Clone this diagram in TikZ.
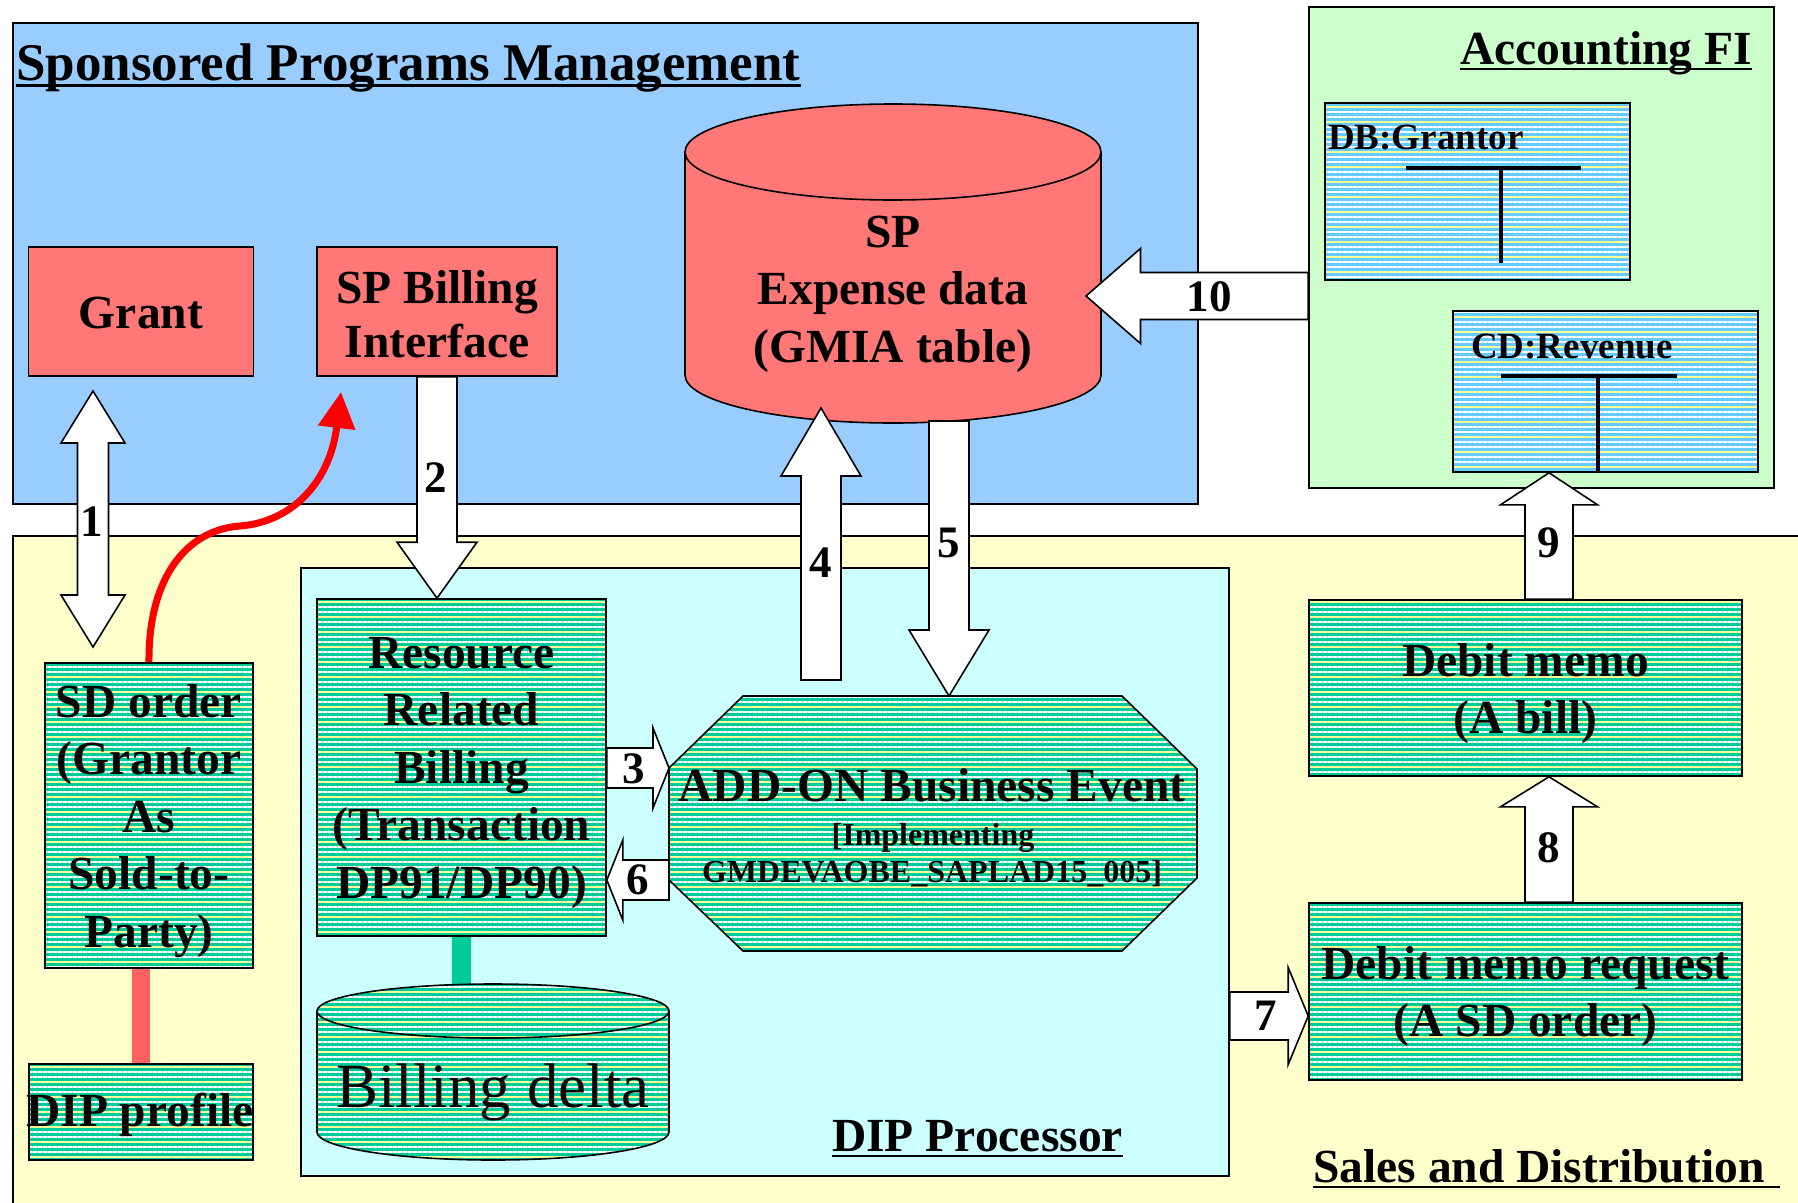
\documentclass[tikz,border=0pt]{standalone}
\usepackage{fontspec}
\setmainfont{Liberation Serif}
\usetikzlibrary{calc,arrows.meta,patterns.meta}
\definecolor{spblue}{HTML}{99CCFF}
\definecolor{redbox}{HTML}{FF7777}
\definecolor{accgreen}{HTML}{CCFFCC}
\definecolor{sdyellow}{HTML}{FFFFCC}
\definecolor{dipcyan}{HTML}{CCFFFF}
\definecolor{tealc}{HTML}{00CC99}
\definecolor{tblue}{HTML}{66CCFF}
\definecolor{hatchy}{HTML}{FFFF99}
\definecolor{linkred}{HTML}{FF6060}
\newcommand\fbig{\fontsize{47.5}{57.5}\selectfont\bfseries}
\newcommand\fspb{\fontsize{47.5}{54}\selectfont\bfseries}
\newcommand\ftitle{\fontsize{53}{60}\selectfont\bfseries}
\newcommand\fnum{\fontsize{45}{45}\selectfont\bfseries}
\newcommand\fsmall{\fontsize{32}{36}\selectfont\bfseries}
\newcommand\facct{\fontsize{37}{40}\selectfont\bfseries}
\newcommand\fdelta{\fontsize{63}{70}\selectfont}
% block arrow: start, tip, shaft half width, head half width, head length
\newcommand\blockarr[5]{%
  \coordinate (hbase) at ($(#2)!#5!(#1)$);
  \draw[barrow] ($(#1)!#3!90:(#2)$) -- ($(hbase)!#3!90:(#2)$) -- ($(hbase)!#4!90:(#2)$) -- (#2) -- ($(hbase)!#4!-90:(#2)$) -- ($(hbase)!#3!-90:(#2)$) -- ($(#1)!#3!-90:(#2)$) -- cycle;}
\newcommand\dblarr[5]{%
  \coordinate (hbA) at ($(#1)!#5!(#2)$);
  \coordinate (hbB) at ($(#2)!#5!(#1)$);
  \draw[barrow] (#1) -- ($(hbA)!#4!90:(#2)$) -- ($(hbA)!#3!90:(#2)$) -- ($(hbB)!#3!90:(#2)$) -- ($(hbB)!#4!90:(#2)$) -- (#2) -- ($(hbB)!#4!-90:(#2)$) -- ($(hbB)!#3!-90:(#2)$) -- ($(hbA)!#3!-90:(#2)$) -- ($(hbA)!#4!-90:(#2)$) -- cycle;}
\begin{document}
\begin{tikzpicture}[x=1pt,y=-1pt,
  container/.style={draw=black,line width=1.8pt,inner sep=0pt},
  tealhatch/.style={preaction={fill=tealc},
    preaction={pattern={Lines[distance=5pt,line width=1.1pt]},pattern color=white},
    preaction={pattern={Lines[distance=15pt,line width=1.1pt]},pattern color=hatchy}},
  bluehatch/.style={preaction={fill=tblue},
    preaction={pattern={Lines[distance=5pt,line width=1.1pt]},pattern color=white},
    preaction={pattern={Lines[distance=15pt,line width=1.1pt]},pattern color=hatchy}},
  rbox/.style={draw=black,line width=1.6pt,fill=redbox,inner sep=0pt},
  gbox/.style={tealhatch,draw=black,line width=1.6pt,inner sep=0pt},
  tbox/.style={bluehatch,draw=black,line width=1.6pt,inner sep=0pt},
  btext/.style={align=center,font=\fbig,inner sep=0pt},
  barrow/.style={draw=black,fill=white,line width=1.6pt,line join=miter},
  numlab/.style={font=\fnum,inner sep=0pt},
  ttext/.style={inner sep=0pt},
  uline/.style={line width=2.6pt}]
\useasboundingbox (0,0) rectangle (1798,1202);
\fill[white] (0,0) rectangle (1798,1202);

% containers
\node[container,fill=spblue,minimum width=1185.4,minimum height=481] (spm) at (605.3,263.5) {};
\node[container,fill=accgreen,minimum width=465,minimum height=481] (acc) at (1541.5,247.5) {};
\node[container,fill=sdyellow,minimum width=1799.4,minimum height=680] (sd) at (912.3,876) {};
\node[container,fill=dipcyan,minimum width=928,minimum height=608] (dip) at (765,872) {};

% titles
\node[ttext,anchor=base west,font=\ftitle] (ttl) at (16,80) {Sponsored Programs Management};
\draw[uline] ([yshift=-5.5pt]ttl.base west) -- ([yshift=-5.5pt]ttl.base east);
\node[ttext,anchor=base east,font=\fbig] (acct) at (1752,64) {Accounting FI};
\draw[uline] ([yshift=-5pt]acct.base west) -- ([yshift=-5pt]acct.base east);
\node[ttext,anchor=base west,font=\fbig] (dipt) at (832,1151) {DIP Processor};
\draw[uline] ([yshift=-5pt]dipt.base west) -- ([yshift=-5pt]dipt.base east);
\node[ttext,anchor=base west,font=\fbig] (sdt) at (1313,1182) {Sales and Distribution};
\coordinate (sdtend) at (1780,1187);
\draw[uline] ([yshift=-5pt]sdt.base west) -- (sdtend);

% red boxes
\node[rbox,minimum width=225,minimum height=129] (grant) at (141,311.5) {};
\node[btext] (grantt) at (141,313.5) {Grant};
\node[rbox,minimum width=240,minimum height=129] (spb) at (437,311.5) {};
\node[btext,font=\fspb] (spbt) at (437,314) {SP Billing\\Interface};

% SP expense cylinder
\draw[line width=1.6pt,fill=redbox] (685,152) -- (685,375) arc[start angle=180,end angle=0,x radius=208,y radius=48] -- (1101,152) arc[start angle=0,end angle=-180,x radius=208,y radius=48] -- cycle;
\draw[line width=1.6pt] (685,152) arc[start angle=180,end angle=0,x radius=208,y radius=48];
\node[btext] (spexp) at (893,294) {SP\\Expense data\\(GMIA table)};

% T accounts
\node[tbox,minimum width=305,minimum height=177] (dbg) at (1477.5,191.5) {};
\node[ttext,anchor=base west,font=\facct] (dbgt) at (1328,149) {DB:Grantor};
\draw[line width=4.6pt] (1406,168) -- (1581,168);
\draw[line width=4.6pt] (1501,168) -- (1501,263);
\node[tbox,minimum width=305,minimum height=161] (cdr) at (1605.5,391.5) {};
\node[ttext,anchor=base west,font=\facct] (cdrt) at (1471,358) {CD:Revenue};
\draw[line width=4.6pt] (1501,376) -- (1677,376);
\draw[line width=4.6pt] (1598,376) -- (1598,471);

% connectors
\coordinate (bdtop) at (461.5,1000);
\draw[tealc,line width=19pt] (461.5,936) -- (bdtop);

% green boxes
\node[gbox,minimum width=289,minimum height=337] (rrb) at (461.5,767.5) {};
\node[btext] (rrbt) at (461.5,772.5) {Resource\\Related\\Billing\\(Transaction\\DP91/DP90)};
\node[gbox,minimum width=208,minimum height=305] (sdorder) at (149,815.5) {};
\node[btext] (sdordert) at (149,821) {SD order\\(Grantor\\As\\Sold-to-\\Party)};
\node[gbox,minimum width=224,minimum height=96] (dipp) at (141,1112) {};
\draw[linkred,line width=18pt] (dipp.north |- sdorder.south) -- (dipp.north);
\node[btext] (dipptxt) at (140,1115) {DIP profile};
\node[gbox,minimum width=433,minimum height=176] (dm) at (1525.5,688) {};
\node[btext] (dmt) at (1525.5,693.5) {Debit memo\\(A bill)};
\node[gbox,minimum width=433,minimum height=177] (dmr) at (1525.5,991.5) {};
\node[btext] (dmrt) at (1525.5,996.5) {Debit memo request\\(A SD order)};

% billing delta cylinder
\draw[tealhatch,line width=1.6pt] (317,1011) -- (317,1132) arc[start angle=180,end angle=0,x radius=176,y radius=28] -- (669,1011) arc[start angle=0,end angle=-180,x radius=176,y radius=27] -- cycle;
\draw[line width=1.6pt] (317,1011) arc[start angle=180,end angle=0,x radius=176,y radius=27];
\node[ttext,anchor=base,font=\fdelta] (bdelta) at (493,1107) {Billing delta};

% ADD-ON octagon
\coordinate (oTL) at (743,696); \coordinate (oTR) at (1122,696);
\coordinate (oRT) at (1197,769); \coordinate (oRB) at (1197,878);
\coordinate (oBR) at (1122,951); \coordinate (oBL) at (743,951);
\coordinate (oLB) at (669,880); \coordinate (oLT) at (669,768);
\draw[tealhatch,line width=1.6pt] (oTL) -- (oTR) -- (oRT) -- (oRB) -- (oBR) -- (oBL) -- (oLB) -- (oLT) -- cycle;
\node[ttext,anchor=base,font=\fbig] (addon) at (932,801) {ADD-ON Business Event};
\node[ttext,anchor=base,font=\fsmall] (addon2) at (933,845) {[Implementing};
\node[ttext,anchor=base,font=\fsmall] (addon3) at (932,882) {GMDEVAOBE\_SAPLAD15\_005]};

% red curved arrow
\coordinate (redtip) at (341,392);
\draw[red,line width=7pt,-{Triangle[length=36pt,width=36pt]}] (sdorder.north) .. controls (148,580) and (185,530) .. (240,526) .. controls (292,522) and (330,482) .. (redtip);

% block arrows
\coordinate (a1b) at (93,647); \coordinate (a1t) at (93,391);
\dblarr{a1b}{a1t}{15.5pt}{32pt}{52pt}
\coordinate (a2t) at (spb.south |- rrb.north);
\blockarr{spb.south}{a2t}{20pt}{40pt}{56pt}
\coordinate (a3s) at (rrb.east |- oLT);
\blockarr{a3s}{oLT}{20pt}{40pt}{16pt}
\coordinate (a6t) at (rrb.east |- oLB);
\blockarr{oLB}{a6t}{20pt}{40pt}{16pt}
\coordinate (a4s) at (821,680); \coordinate (a4t) at (821,408);
\blockarr{a4s}{a4t}{20pt}{40pt}{68pt}
\coordinate (a5s) at (949,421); \coordinate (a5t) at (a5s |- oTL);
\blockarr{a5s}{a5t}{20pt}{40pt}{66pt}
\coordinate (a10t) at (1086,296); \coordinate (a10s) at (a10t -| acc.west);
\blockarr{a10s}{a10t}{23.5pt}{47.5pt}{54.5pt}
\coordinate (a9s) at ($(dm.north)+(23.5,0)$); \coordinate (a9t) at (a9s |- cdr.south);
\blockarr{a9s}{a9t}{24pt}{48.5pt}{32pt}
\coordinate (a8s) at ($(dmr.north)+(23.5,0)$); \coordinate (a8t) at (a8s |- dm.south);
\blockarr{a8s}{a8t}{24pt}{48.5pt}{30pt}
\coordinate (a7t) at ($(dmr.west)+(0,24.5)$); \coordinate (a7s) at (a7t -| dip.east);
\blockarr{a7s}{a7t}{24pt}{48.5pt}{20pt}

% arrow numbers
\node[numlab] (n1) at (92,522) {1};
\node[numlab] (n2) at (436,478) {2};
\node[numlab] (n3) at (634,769) {3};
\node[numlab] (n4) at (821,563) {4};
\node[numlab] (n5) at (949,543) {5};
\node[numlab] (n6) at (638,880) {6};
\node[numlab] (n7) at (1266,1016) {7};
\node[numlab] (n8) at (1549,848) {8};
\node[numlab] (n9) at (1549,543) {9};
\node[numlab] (n10) at (1209,297) {10};
\end{tikzpicture}
\end{document}
